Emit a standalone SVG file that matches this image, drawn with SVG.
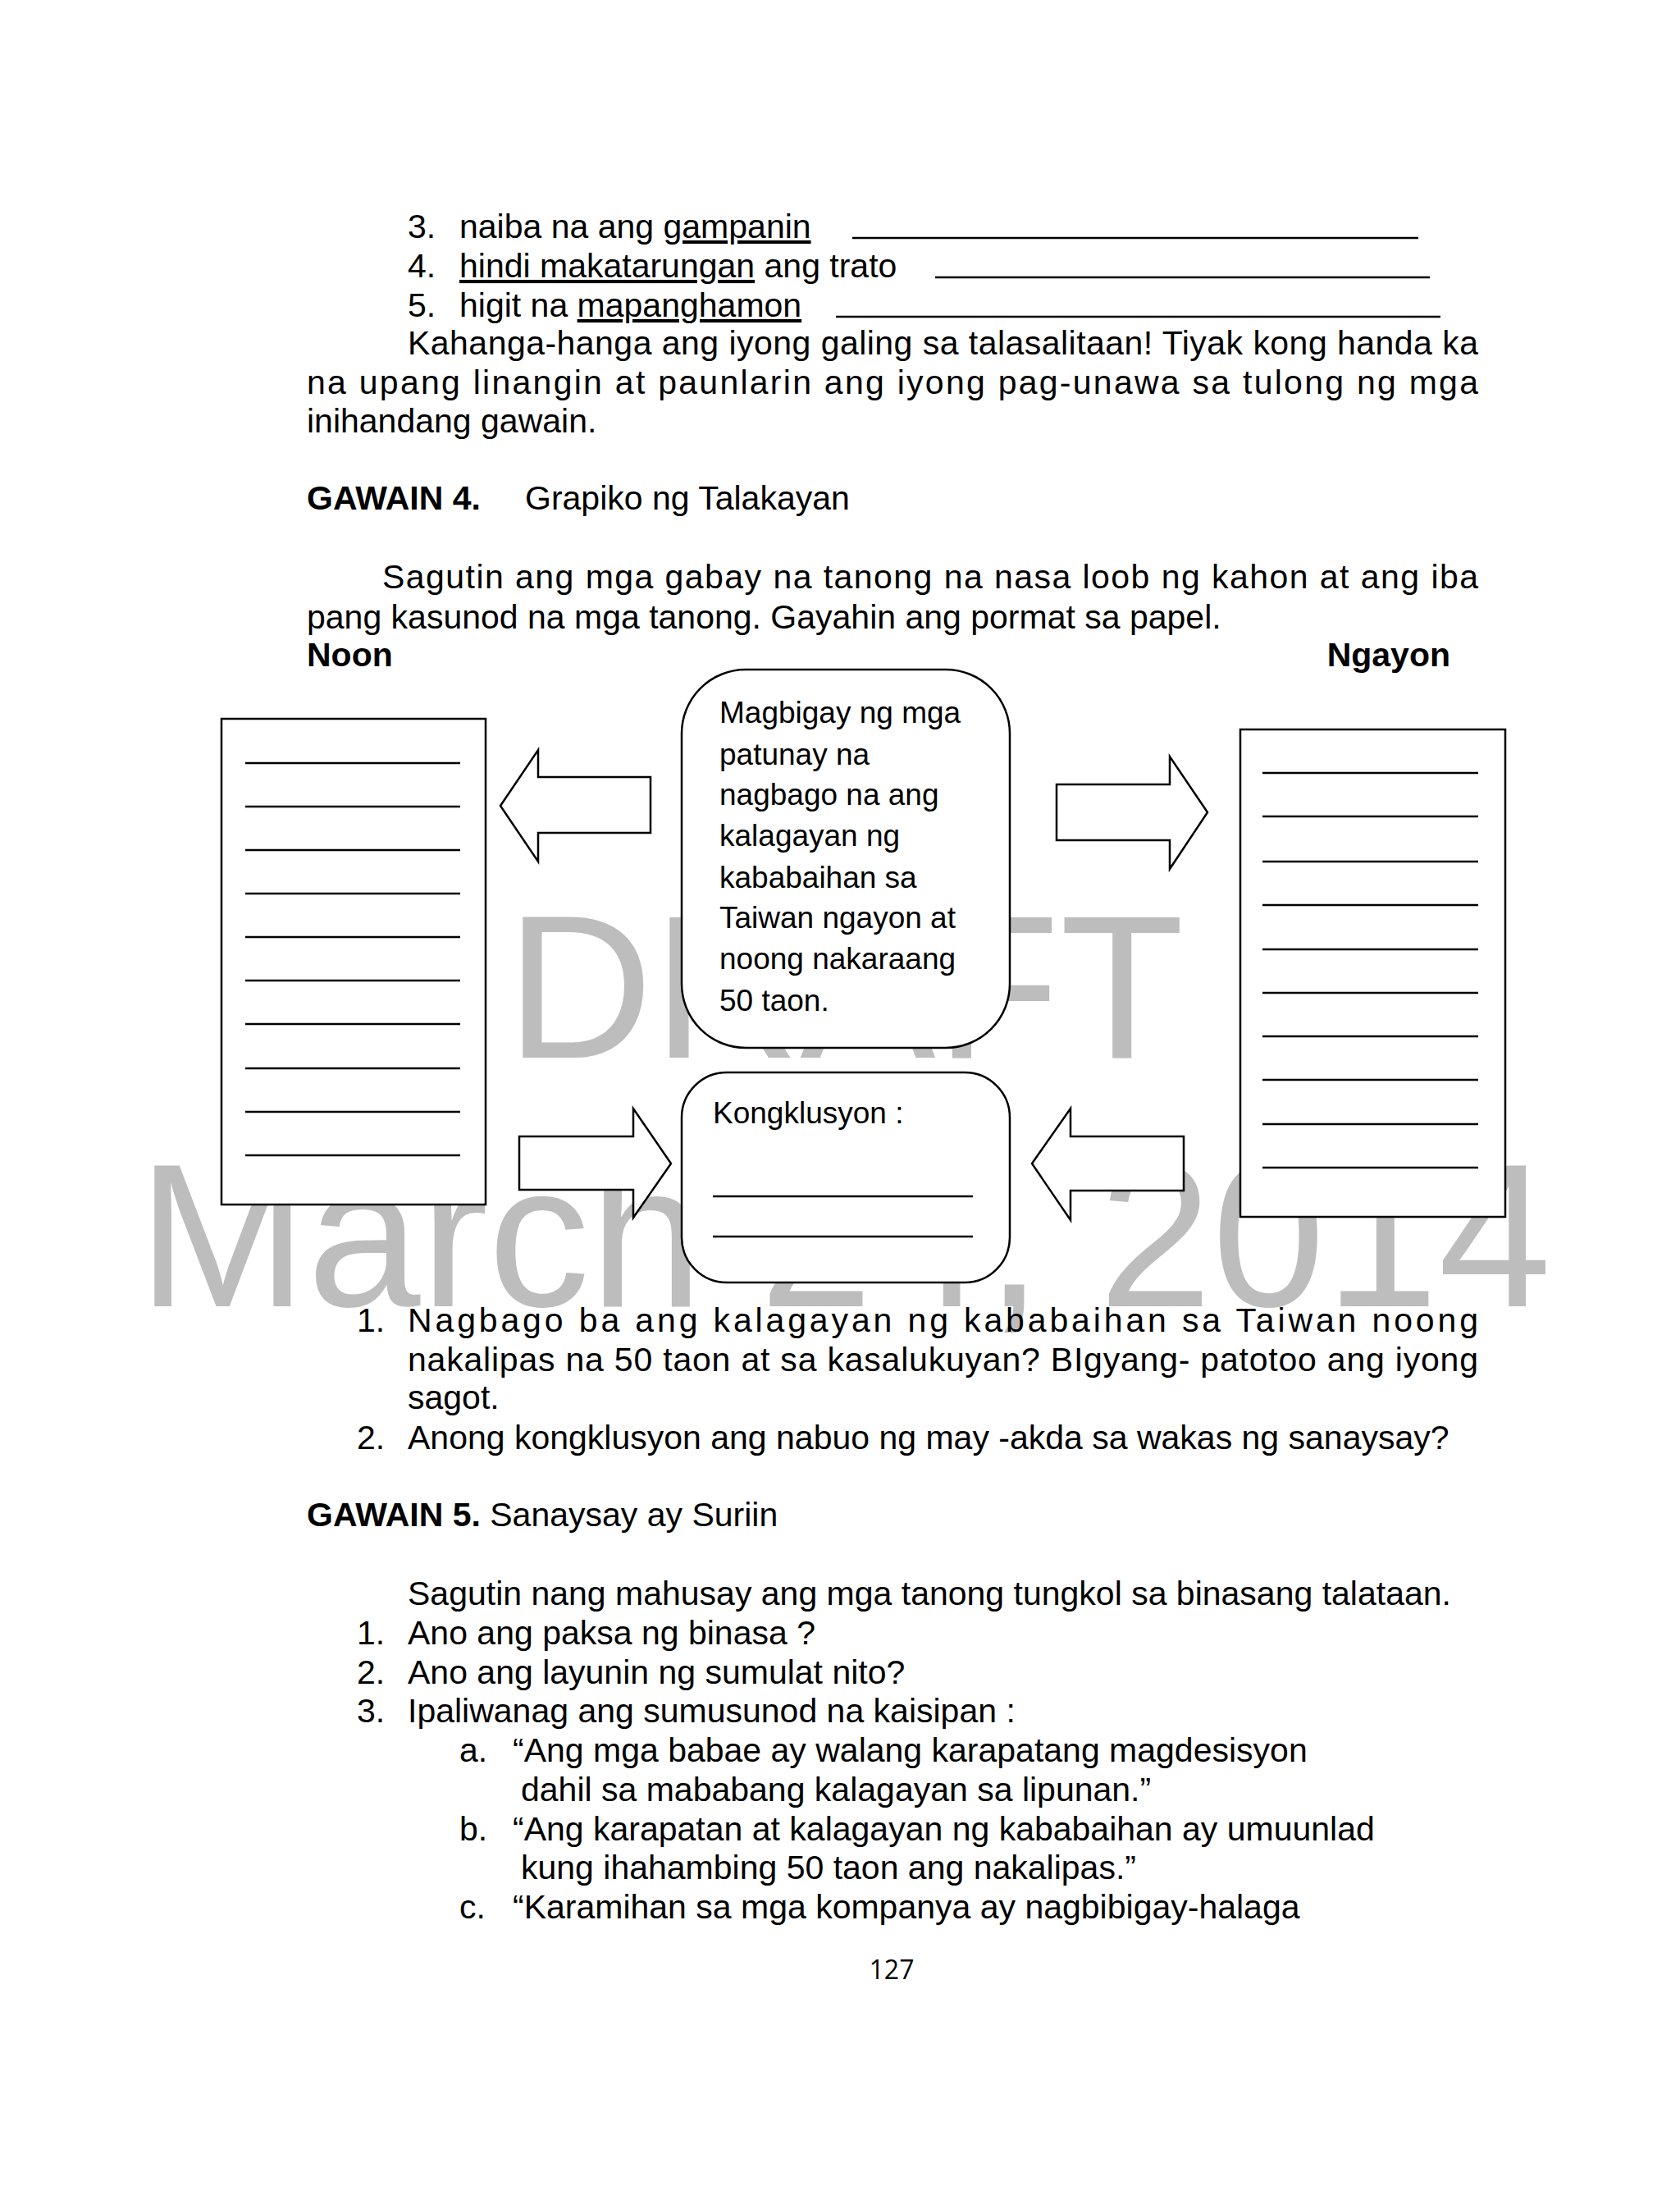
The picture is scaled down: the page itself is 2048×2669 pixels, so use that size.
<svg xmlns="http://www.w3.org/2000/svg" width="2048" height="2669" viewBox="0 0 2048 2669">
<style>
text{font-family:"Liberation Sans",Arial,sans-serif;font-size:41px;fill:#000}
.b{font-weight:bold}
.u{text-decoration:underline}
.wm{fill:#bdbdbd;font-size:248px}
.bx{fill:#fff;stroke:#000;stroke-width:2.5}
.ln{stroke:#000;stroke-width:2.5}
.ar{fill:#fff;stroke:#000;stroke-width:2.5;stroke-linejoin:miter}
.c{font-size:37px}
</style>
<rect width="2048" height="2669" fill="#fff"/>
<text x="497" y="290">3.</text><text x="560" y="290">naiba na ang <tspan class="u">gampanin</tspan></text>
<line class="ln" x1="1039" y1="290" x2="1729" y2="290"/>
<text x="497" y="338">4.</text><text x="560" y="338"><tspan class="u">hindi makatarungan</tspan> ang trato</text>
<line class="ln" x1="1140" y1="338" x2="1743" y2="338"/>
<text x="497" y="386">5.</text><text x="560" y="386">higit na <tspan class="u">mapanghamon</tspan></text>
<line class="ln" x1="1019" y1="386" x2="1756" y2="386"/>
<text x="497" y="432" textLength="1305" lengthAdjust="spacing">Kahanga-hanga ang iyong galing sa talasalitaan!  Tiyak kong handa ka</text>
<text x="374" y="480" textLength="1428" lengthAdjust="spacing">na upang linangin at paunlarin ang iyong pag-unawa sa tulong ng mga</text>
<text x="374" y="527">inihandang gawain.</text>
<text x="374" y="621"><tspan class="b">GAWAIN 4.</tspan></text><text x="640" y="621">Grapiko ng Talakayan</text>
<text x="466" y="717" textLength="1336" lengthAdjust="spacing">Sagutin ang mga gabay na tanong na nasa loob ng kahon at ang iba</text>
<text x="374" y="766">pang kasunod na mga tanong. Gayahin ang pormat sa papel.</text>
<text x="374" y="812" class="b">Noon</text>
<text x="1768" y="812" class="b" text-anchor="end">Ngayon</text>
<g id="watermark">
<text x="617" y="1289" class="wm">DRAFT</text>
<text x="168" y="1592" class="wm">March 24, 2014</text>
</g>
<g id="noon-box">
<rect class="bx" x="270" y="876" width="322" height="592"/>
<g class="ln"><line x1="299" y1="930" x2="561" y2="930"/><line x1="299" y1="983" x2="561" y2="983"/><line x1="299" y1="1036" x2="561" y2="1036"/><line x1="299" y1="1089" x2="561" y2="1089"/><line x1="299" y1="1142" x2="561" y2="1142"/><line x1="299" y1="1195" x2="561" y2="1195"/><line x1="299" y1="1248" x2="561" y2="1248"/><line x1="299" y1="1302" x2="561" y2="1302"/><line x1="299" y1="1355" x2="561" y2="1355"/><line x1="299" y1="1408" x2="561" y2="1408"/></g>
</g>
<g id="ngayon-box">
<rect class="bx" x="1512" y="889" width="323" height="594"/>
<g class="ln"><line x1="1539" y1="942" x2="1802" y2="942"/><line x1="1539" y1="995" x2="1802" y2="995"/><line x1="1539" y1="1050" x2="1802" y2="1050"/><line x1="1539" y1="1103" x2="1802" y2="1103"/><line x1="1539" y1="1157" x2="1802" y2="1157"/><line x1="1539" y1="1210" x2="1802" y2="1210"/><line x1="1539" y1="1263" x2="1802" y2="1263"/><line x1="1539" y1="1316" x2="1802" y2="1316"/><line x1="1539" y1="1370" x2="1802" y2="1370"/><line x1="1539" y1="1423" x2="1802" y2="1423"/></g>
</g>
<g id="center-question">
<rect class="bx" x="831" y="816" width="400" height="461" rx="78"/>
<text class="c" x="877" y="881">Magbigay ng mga</text>
<text class="c" x="877" y="932">patunay na</text>
<text class="c" x="877" y="981">nagbago na ang</text>
<text class="c" x="877" y="1031">kalagayan ng</text>
<text class="c" x="877" y="1082">kababaihan sa</text>
<text class="c" x="877" y="1131">Taiwan ngayon at</text>
<text class="c" x="877" y="1181">noong nakaraang</text>
<text class="c" x="877" y="1232">50 taon.</text>
</g>
<g id="kongklusyon">
<rect class="bx" x="831" y="1307" width="400" height="256" rx="55"/>
<text class="c" x="869" y="1369">Kongklusyon :</text>
<line class="ln" x1="869" y1="1458" x2="1186" y2="1458"/>
<line class="ln" x1="869" y1="1507" x2="1186" y2="1507"/>
</g>
<g id="connectors">
<polygon class="ar" points="793,947 656,947 656,914 610,982 656,1050 656,1015 793,1015"/>
<polygon class="ar" points="1288,956 1426,956 1426,922 1472,990 1426,1059 1426,1024 1288,1024"/>
<polygon class="ar" points="633,1385 772,1385 772,1351 818,1418 772,1484 772,1450 633,1450"/>
<polygon class="ar" points="1443,1385 1305,1385 1305,1351 1258,1418 1305,1487 1305,1451 1443,1451"/>
</g>
<text x="435" y="1623">1.</text>
<text x="497" y="1623" textLength="1305" lengthAdjust="spacing">Nagbago ba ang kalagayan ng  kababaihan sa Taiwan noong</text>
<text x="497" y="1671" textLength="1305" lengthAdjust="spacing">nakalipas na 50 taon at sa kasalukuyan?  BIgyang- patotoo ang iyong</text>
<text x="497" y="1717">sagot.</text>
<text x="435" y="1766">2.</text><text x="497" y="1766">Anong kongklusyon ang nabuo ng may -akda sa wakas ng sanaysay?</text>
<text x="374" y="1860"><tspan class="b">GAWAIN 5.</tspan> Sanaysay ay Suriin</text>
<text x="497" y="1956">Sagutin nang mahusay ang mga tanong tungkol sa  binasang talataan.</text>
<text x="435" y="2004">1.</text><text x="497" y="2004">Ano ang paksa ng binasa ?</text>
<text x="435" y="2052">2.</text><text x="497" y="2052">Ano ang layunin ng sumulat nito?</text>
<text x="435" y="2099">3.</text><text x="497" y="2099">Ipaliwanag ang sumusunod na kaisipan :</text>
<text x="560" y="2147">a.</text><text x="625" y="2147">“Ang mga babae ay walang karapatang magdesisyon</text>
<text x="635" y="2195">dahil sa mababang kalagayan sa lipunan.”</text>
<text x="560" y="2243">b.</text><text x="625" y="2243">“Ang karapatan at kalagayan ng kababaihan  ay umuunlad</text>
<text x="635" y="2290">kung ihahambing 50 taon ang nakalipas.”</text>
<text x="560" y="2338">c.</text><text x="625" y="2338">“Karamihan sa mga kompanya ay nagbibigay-halaga</text>
<text x="1087" y="2412" text-anchor="middle" style="font-family:'Open Sans',sans-serif;font-size:32px">127</text>
</svg>
